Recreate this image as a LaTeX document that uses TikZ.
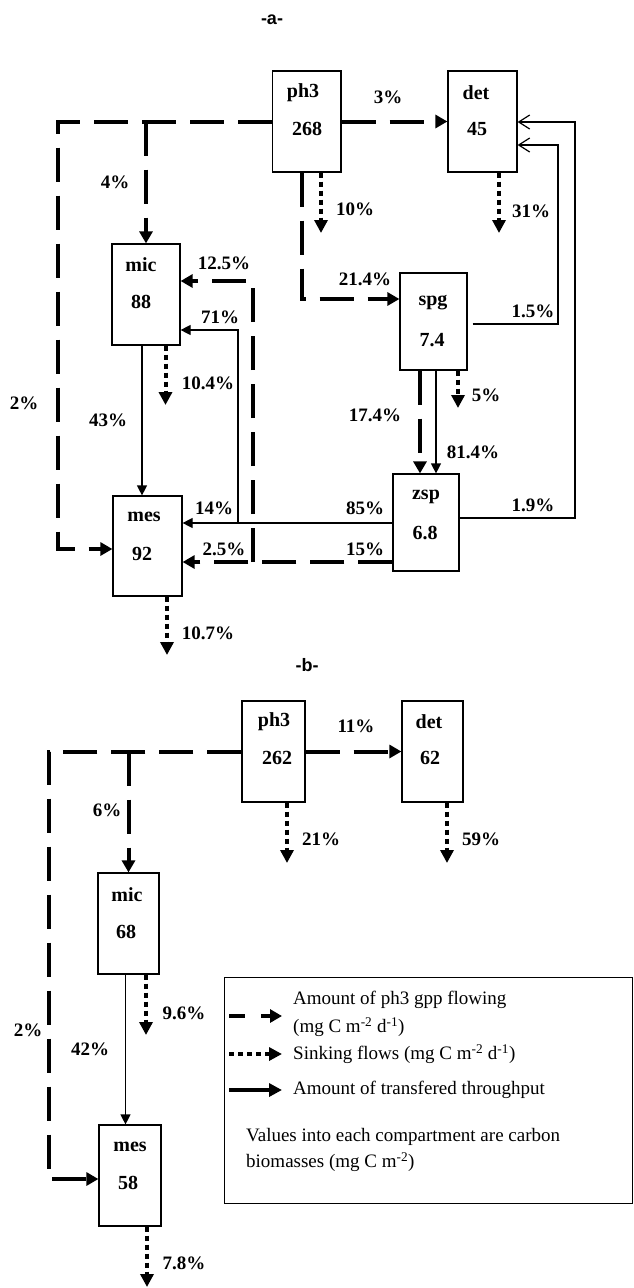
\documentclass[tikz,border=0pt]{standalone}
\usepackage{fontspec}
\setmainfont{Liberation Serif}
\newfontfamily\titlefont{Liberation Sans}
\usetikzlibrary{arrows.meta}
\begin{document}
\begin{tikzpicture}[x=1pt,y=-1pt,
 box/.style={draw,line width=1.2pt,inner sep=0pt},
 lbl/.style={font=\fontsize{19}{19}\selectfont\bfseries, inner sep=0pt},
 boxtxt/.style={font=\fontsize{20}{20}\selectfont\bfseries, inner sep=0pt},
 ttl/.style={font=\fontsize{18}{18}\selectfont\titlefont\bfseries, inner sep=0pt},
 gpp/.style={line width=4pt, dash pattern=on 34pt off 14pt, -{Triangle[length=12pt,width=13pt]}},
 sink/.style={line width=4pt, dash pattern=on 5pt off 4pt, -{Triangle[length=13pt,width=13pt]}},
 flow/.style={line width=1.2pt, -{Triangle[length=10pt,width=10pt]}},
 fb/.style={line width=1.2pt, -{Straight Barb[length=11pt,width=14pt]}},
 legtxt/.style={font=\fontsize{19}{19}\selectfont, inner sep=0pt, anchor=west},
]
\useasboundingbox (0,0) rectangle (633,1288);

% ---------------- panel a ----------------
\node[ttl] (ta) at (272,20) {-a-};
\node[box, minimum width=68.5pt, minimum height=101pt] (ph3a) at (306.75,121.5) {};
\node[box, minimum width=69pt, minimum height=101pt] (deta) at (482.5,121.5) {};
\node[box, minimum width=67pt, minimum height=97pt] (spga) at (433.5,321.5) {};
\node[box, minimum width=68pt, minimum height=101pt] (mica) at (146,294.5) {};
\node[box, minimum width=69pt, minimum height=100pt] (mesa) at (147.5,546) {};
\node[box, minimum width=66pt, minimum height=97pt] (zspa) at (426,522.5) {};

\node[boxtxt] (ph3an) at (303,93) {ph3};
\node[boxtxt] (ph3av) at (307,129) {268};
\node[boxtxt] (detan) at (476,93) {det};
\node[boxtxt] (detav) at (477,129) {45};
\node[boxtxt] (spgan) at (433,303) {spg};
\node[boxtxt] (spgav) at (432,340) {7.4};
\node[boxtxt] (mican) at (141,265) {mic};
\node[boxtxt] (micav) at (141,302) {88};
\node[boxtxt] (mesan) at (144,517) {mes};
\node[boxtxt] (mesav) at (142,554) {92};
\node[boxtxt] (zspan) at (426,497) {zsp};
\node[boxtxt] (zspav) at (425,533) {6.8};

\coordinate (pa1) at (58,121.5);
\coordinate (pa2) at (58,549);
\coordinate (pa3) at (321,233);
\coordinate (pa4) at (499,233);
\coordinate (pa5) at (302,299);
\coordinate (pa6) at (558,324);
\coordinate (pa7) at (558,145);
\coordinate (pa8) at (575,518);
\coordinate (pa9) at (575,122);
\coordinate (pa10) at (165.5,405);
\coordinate (pa11) at (142,420);
\coordinate (pa12) at (167,655);
\coordinate (pa13) at (420,420);
\coordinate (pa14) at (436,420);
\coordinate (pa15) at (458,408);
\coordinate (pa16) at (300,523);
\coordinate (pa17) at (238,523);
\coordinate (pa18) at (238,330);
\coordinate (pa19) at (300,562);
\coordinate (pa20) at (253,562);
\coordinate (pa21) at (253,281);

\draw[gpp] (ph3a.west) -- (pa1) -- (pa2) -- (pa2 -| mesa.west);
\draw[gpp] (ph3a.west -| mica.north) -- (mica.north);
\draw[gpp] (ph3a.east) -- (deta.west);
\draw[sink] (ph3a.south -| pa3) -- (pa3);
\draw[sink] (deta.south -| pa4) -- (pa4);
\draw[gpp] (ph3a.south -| pa5) -- (pa5) -- (pa5 -| spga.west);
\draw[fb] ([xshift=5pt]spga.east |- pa6) -- (pa6) -- (pa7) -- (pa7 -| deta.east);
\draw[fb] (zspa.east |- pa8) -- (pa8) -- (pa9) -- (pa9 -| deta.east);
\draw[sink] (mica.south -| pa10) -- (pa10);
\draw[flow] (mica.south -| pa11) -- (mesa.north -| pa11);
\draw[sink] (mesa.south -| pa12) -- (pa12);
\draw[gpp] (spga.south -| pa13) -- (zspa.north -| pa13);
\draw[flow] (spga.south -| pa14) -- (zspa.north -| pa14);
\draw[sink] (spga.south -| pa15) -- (pa15);
\draw[flow] (zspa.west |- pa16) -- (mesa.east |- pa16);
\draw[flow] (pa17) -- (pa18) -- (pa18 -| mica.east);
\draw[gpp] (zspa.west |- pa19) -- (mesa.east |- pa19);
\draw[gpp] (pa20) -- (pa21) -- (pa21 -| mica.east);

\node[lbl] (la1) at (388,97) {3\%};
\node[lbl] (la2) at (115,182) {4\%};
\node[lbl] (la3) at (355,209) {10\%};
\node[lbl] (la4) at (531,211) {31\%};
\node[lbl] (la5) at (365,279) {21.4\%};
\node[lbl] (la6) at (224,263) {12.5\%};
\node[lbl] (la7) at (220,317) {71\%};
\node[lbl] (la8) at (533,311) {1.5\%};
\node[lbl] (la9) at (208,383) {10.4\%};
\node[lbl] (la10) at (486,395) {5\%};
\node[lbl] (la11) at (24,403) {2\%};
\node[lbl] (la12) at (108,420) {43\%};
\node[lbl] (la13) at (375,415) {17.4\%};
\node[lbl] (la14) at (473,452) {81.4\%};
\node[lbl] (la15) at (533,505) {1.9\%};
\node[lbl] (la16) at (214,508) {14\%};
\node[lbl] (la17) at (365,508) {85\%};
\node[lbl] (la18) at (224,549) {2.5\%};
\node[lbl] (la19) at (365,549) {15\%};
\node[lbl] (la20) at (208,633) {10.7\%};

% ---------------- panel b ----------------
\node[ttl] (tb) at (307,665) {-b-};
\node[box, minimum width=63pt, minimum height=101pt] (ph3b) at (273.5,751.5) {};
\node[box, minimum width=61pt, minimum height=101pt] (detb) at (432.5,751.5) {};
\node[box, minimum width=61pt, minimum height=101pt] (micb) at (128.5,923.5) {};
\node[box, minimum width=62pt, minimum height=101pt] (mesb) at (130,1175.5) {};

\node[boxtxt] (ph3bn) at (274,722) {ph3};
\node[boxtxt] (ph3bv) at (277,758) {262};
\node[boxtxt] (detbn) at (429,722) {det};
\node[boxtxt] (detbv) at (430,758) {62};
\node[boxtxt] (micbn) at (127,895) {mic};
\node[boxtxt] (micbv) at (126,932) {68};
\node[boxtxt] (mesbn) at (130,1147) {mes};
\node[boxtxt] (mesbv) at (128,1183) {58};

\coordinate (pb1) at (48.5,751.5);
\coordinate (pb2) at (48.5,1179);
\coordinate (pb3) at (287,863);
\coordinate (pb4) at (447,863);
\coordinate (pb5) at (146,1035);
\coordinate (pb6) at (147,1287);
\coordinate (pb7) at (125.5,1050);

\draw[gpp] (ph3b.west) -- (pb1) -- (pb2) -- (pb2 -| mesb.west);
\draw[gpp] (ph3b.west -| micb.north) -- (micb.north);
\draw[gpp] (ph3b.east) -- (detb.west);
\draw[sink] (ph3b.south -| pb3) -- (pb3);
\draw[sink] (detb.south -| pb4) -- (pb4);
\draw[sink] (micb.south -| pb5) -- (pb5);
\draw[sink] (mesb.south -| pb6) -- (pb6);
\draw[flow] (micb.south -| pb7) -- (mesb.north -| pb7);

\node[lbl] (lb1) at (356,726) {11\%};
\node[lbl] (lb2) at (107,810) {6\%};
\node[lbl] (lb3) at (321,839) {21\%};
\node[lbl] (lb4) at (481,839) {59\%};
\node[lbl] (lb5) at (184,1013) {9.6\%};
\node[lbl] (lb6) at (28,1030) {2\%};
\node[lbl] (lb7) at (90,1049) {42\%};
\node[lbl] (lb8) at (184,1263) {7.8\%};

% ---------------- legend ----------------
\node[box, minimum width=408pt, minimum height=226pt, anchor=north west] (legend) at (224,977) {};
\coordinate (l1s) at (229,1016);
\coordinate (l1e) at (282,1016);
\coordinate (l2s) at (229,1054);
\coordinate (l2e) at (282,1054);
\coordinate (l3s) at (229,1090);
\coordinate (l3e) at (282,1090);
\draw[gpp, dash pattern=on 16pt off 16pt] (l1s) -- (l1e);
\draw[sink] (l2s) -- (l2e);
\draw[line width=4pt, -{Triangle[length=13pt,width=13pt]}] (l3s) -- (l3e);
\node[legtxt] (lt1) at (293,1000) {Amount of ph3 gpp flowing};
\node[legtxt] (lt2) at (293,1027) {(mg C m\textsuperscript{-2} d\textsuperscript{-1})};
\node[legtxt] (lt3) at (293,1054) {Sinking flows (mg C m\textsuperscript{-2} d\textsuperscript{-1})};
\node[legtxt] (lt4) at (293,1090) {Amount of transfered throughput};
\node[legtxt] (lt5) at (246,1137) {Values into each compartment are carbon};
\node[legtxt] (lt6) at (246,1162) {biomasses (mg C m\textsuperscript{-2})};
\end{tikzpicture}
\end{document}
